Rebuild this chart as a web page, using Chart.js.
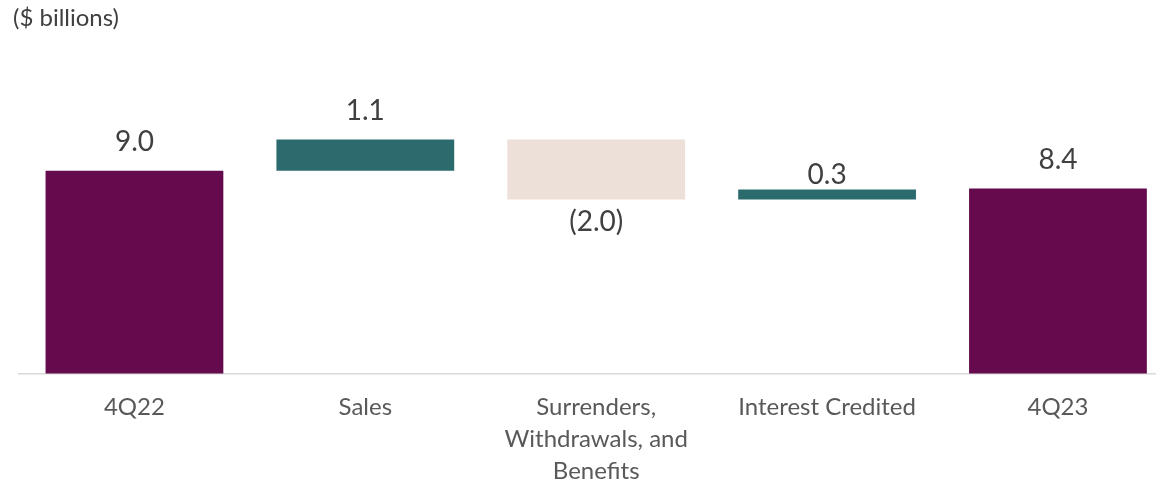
<!DOCTYPE html>
<html>
<head>
<meta charset="utf-8">
<script src="https://cdn.jsdelivr.net/npm/chart.js@4/dist/chart.umd.min.js"></script>
<style>
    html, body { margin: 0; padding: 0; background: #fff; overflow: hidden; }
    #wrap { width: 1156px; height: 486px; overflow: hidden; position: relative; }
    #box { width: 1180px; height: 486px; position: absolute; left: 0; top: 0; }
</style>
</head>
<body>
<div id="wrap"><div id="box"><canvas id="flowChart"></canvas></div></div>
<script>
const categories = ["4Q22", "Sales", ["Surrenders,", "Withdrawals, and", "Benefits"], "Interest Credited", "4Q23"];
const startValue = 9.0;
const changes = [1.06, -2.03, 0.34];
const endValue = 8.4;
const valueLabels = ["9.0", "1.1", "(2.0)", "0.3", "8.4"];
const barColors = ["#650A4D", "#2B6B6E", "#EDE0D8", "#2B6B6E", "#650A4D"];

// floating bars: [from, to]
const floating = [[0, startValue]];
let running = startValue;
changes.forEach(c => {
    floating.push([running, running + c]);
    running += c;
});
floating.push([0, endValue]);

const labelPlugin = {
    id: "valueLabels",
    afterDatasetsDraw(chart) {
        const ctx = chart.ctx;
        const meta = chart.getDatasetMeta(0);
        ctx.save();
        ctx.font = "28px Lato";
        ctx.fillStyle = "#404040";
        ctx.textAlign = "center";
        ctx.textBaseline = "middle";
        meta.data.forEach((bar, i) => {
            const top = Math.min(bar.y, bar.base);
            const bottom = Math.max(bar.y, bar.base);
            const [a, b] = floating[i];
            let y;
            if (b < a) {
                y = bottom + 23;
            } else if (i === 3) {
                y = top - 14;
            } else {
                y = top - 29;
            }
            ctx.fillText(valueLabels[i], bar.x, y);
        });
        // units note
        ctx.font = "24px Lato";
        ctx.textAlign = "left";
        ctx.fillText("($ billions)", 13, 18);
        ctx.restore();
    }
};

const ctx = document.getElementById("flowChart").getContext("2d");
new Chart(ctx, {
    type: "bar",
    data: {
        labels: categories,
        datasets: [{
            data: floating,
            backgroundColor: barColors,
            borderWidth: 0,
            barPercentage: 0.77,
            categoryPercentage: 1
        }]
    },
    options: {
        responsive: true,
        maintainAspectRatio: false,
        animation: false,
        layout: {
            padding: { left: 19, right: 6.6, top: 80, bottom: 0 }
        },
        plugins: {
            legend: { display: false },
            tooltip: { enabled: false }
        },
        scales: {
            x: {
                grid: { display: false, drawTicks: false },
                border: { display: true, color: "#D9D9D9", width: 1.5 },
                ticks: {
                    color: "#595959",
                    padding: 18,
                    maxRotation: 0,
                    autoSkip: false,
                    font: { family: "Lato", size: 24, lineHeight: 1.333 }
                },
                afterFit: function(scale) {
                    scale.height = 112.5;
                }
            },
            y: {
                display: false,
                min: 2.13,
                max: 12.08
            }
        }
    },
    plugins: [labelPlugin]
});
</script>
</body>
</html>
